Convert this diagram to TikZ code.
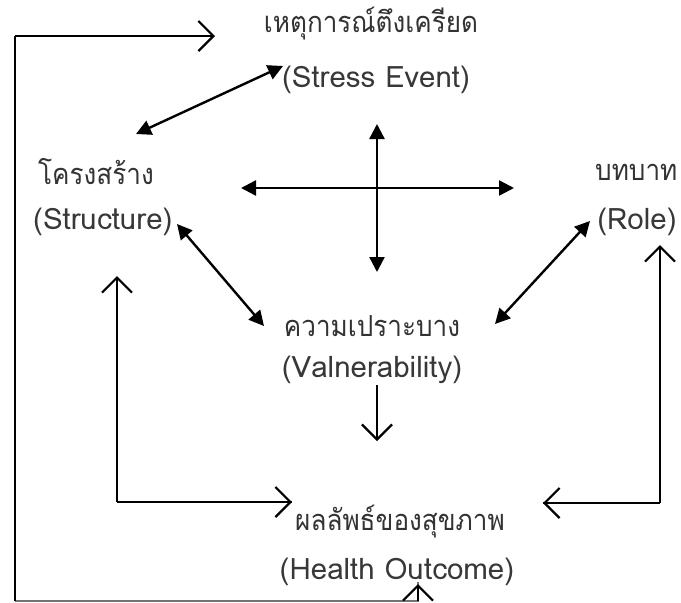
\documentclass[tikz,border=0pt]{standalone}
\usepackage{fontspec}
\setmainfont[Script=Thai]{Loma}
\newfontfamily\thainarrow[Script=Thai,FakeStretch=0.9]{Loma}
\usetikzlibrary{arrows.meta}
\begin{document}
\begin{tikzpicture}[x=1pt,y=-1pt,
  lbl/.style={inner sep=0pt,font=\thainarrow\fontsize{29}{34}\selectfont,text=black!80},
  lat/.style={inner sep=0pt,font=\fontsize{29.5}{34}\selectfont,text=black!78},
  both/.style={line width=2.4pt,{Triangle[length=15pt,width=15pt]}-{Triangle[length=15pt,width=15pt]}},
  open/.style={line width=2.2pt,-{Straight Barb[length=15pt,width=30pt,line width=2.2pt]}},
  thinline/.style={line width=1.4pt,black!55}]
\useasboundingbox (0,0) rectangle (681,603);
\fill[white] (0,0) rectangle (681,603);

% labels
\node[lbl] (seth) at (371,24) {เหตุการณ์ตึงเครียด};
\node[lat] (seen) at (376,80) {(Stress Event)};
\node[lbl,anchor=west] (stth) at (38,172) {โครงสร้าง};
\node[lat,anchor=west] (sten) at (33,222) {(Structure)};
\node[lbl,anchor=west] (roth) at (595,172) {บทบาท};
\node[lat] (roen) at (637,222) {(Role)};
\node[lbl] (vuth) at (372,326) {ความเปราะบาง};
\node[lat] (vuen) at (372,370) {(Valnerability)};
\node[lbl] (hoth) at (400,522) {ผลลัพธ์ของสุขภาพ};
\node[lat] (hoen) at (397,572) {(Health Outcome)};

% connector end points
\coordinate (fbTop) at (15,36);
\coordinate (fbTip) at (215,36);
\coordinate (fbBot) at (15,601);
\coordinate (fbEnd) at (418,601);
\coordinate (fbUp) at (418,584);
\coordinate (ss1) at (283,66);
\coordinate (ss2) at (136,134);
\coordinate (cxT) at (377,124);
\coordinate (cxB) at (377,272);
\coordinate (cxL) at (241,188);
\coordinate (cxR) at (514,188);
\coordinate (sv1) at (177,224);
\coordinate (sv2) at (264,326);
\coordinate (rv1) at (590,221);
\coordinate (rv2) at (495,324);
\coordinate (vh1) at (377,385);
\coordinate (vh2) at (377,441);
\coordinate (shB) at (117,502);
\coordinate (shT) at (117,276);
\coordinate (shR) at (292,502);
\coordinate (rhB) at (660,503);
\coordinate (rhT) at (660,245);
\coordinate (rhL) at (543,503);

% feedback loop from the outcome back to the stress event
\draw[thinline] (fbBot) -- (fbEnd) -- ([yshift=2pt]fbEnd|-fbUp);
\draw[open] (fbEnd) -- (fbUp);
\draw[line width=2.2pt] (fbBot) -- (fbTop);
\draw[open] (fbTop) -- (fbTip);

% two-way links
\draw[both] (ss1) -- (ss2);
\draw[both] (cxT) -- (cxB);
\draw[both] (cxL) -- (cxR);
\draw[both] (sv1) -- (sv2);
\draw[both] (rv1) -- (rv2);

% links into the health outcome
\draw[open] (vh1) -- (vh2);
\draw[line width=2.2pt] (shR) -- (shB);
\draw[open] (shB) -- (shT);
\draw[open] (shB) -- (shR);
\draw[line width=2.2pt] (rhL) -- (rhB);
\draw[open] (rhB) -- (rhT);
\draw[open] (rhB) -- (rhL);
\end{tikzpicture}
\end{document}
